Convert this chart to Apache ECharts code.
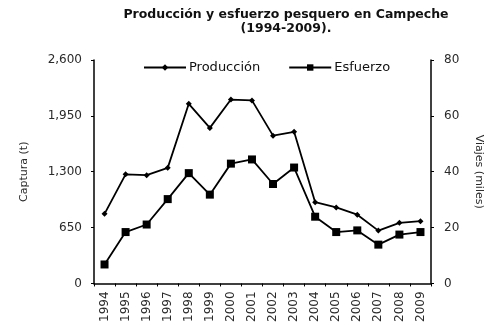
<!DOCTYPE html>
<html>
<head>
<meta charset="utf-8">
<script src="https://cdn.jsdelivr.net/npm/echarts@6/dist/echarts.min.js"></script>
<style>
  html, body { margin: 0; padding: 0; background: #fff; }
  #chart { width: 492px; height: 325px; }
</style>
</head>
<body>
<div id="chart"></div>
<script>
// Captura anual (t) y esfuerzo (miles de viajes), Campeche 1994-2009
const years = ['1994','1995','1996','1997','1998','1999','2000','2001',
               '2002','2003','2004','2005','2006','2007','2008','2009'];
const produccion = [810, 1270, 1260, 1345, 2090, 1810, 2140, 2130,
                    1720, 1765, 945, 885, 800, 615, 705, 725];
const esfuerzo = [6.8, 18.4, 21.1, 30.2, 39.5, 31.8, 42.9, 44.4,
                  35.6, 41.5, 23.9, 18.4, 19.0, 13.9, 17.5, 18.4];
const leftTicks = [0, 650, 1300, 1950, 2600];
const rightTicks = [0, 20, 40, 60, 80];

const FONT = 'DejaVu Sans';
const chart = echarts.init(document.getElementById('chart'), null, { renderer: 'canvas' });

const axisText = { color: '#2a2a2a', fontSize: 12, fontFamily: FONT };

chart.setOption({
  backgroundColor: '#fff',
  animation: false,
  title: {
    text: 'Producción y esfuerzo pesquero en Campeche\n(1994-2009).',
    left: 281, top: 3, textAlign: 'center',
    textStyle: { fontFamily: FONT, fontWeight: 'bold', fontSize: 12.5, lineHeight: 14, color: '#111' }
  },
  legend: {
    left: 138, top: 56,
    itemWidth: 42, itemHeight: 8, itemGap: 28,
    textStyle: { fontFamily: FONT, fontSize: 13, color: '#111', padding: [0, 0, 0, -2] },
    data: [
      { name: 'Producción' },
      { name: 'Esfuerzo' }
    ]
  },
  grid: { left: 94, right: 54, top: 60, bottom: 40, containLabel: false },
  xAxis: {
    type: 'category',
    data: years,
    boundaryGap: true,
    axisLine: { lineStyle: { color: '#000', width: 1.5 } },
    axisTick: { show: true, length: 3, lineStyle: { color: '#000' } },
    axisLabel: Object.assign({ rotate: 90, margin: 8, interval: 0 }, axisText)
  },
  yAxis: [
    {
      type: 'value', min: 0, max: 2600, interval: 650,
      name: 'Captura (t)', nameLocation: 'middle', nameRotate: 90, nameGap: 64,
      nameTextStyle: { fontFamily: FONT, fontSize: 11, color: '#2a2a2a' },
      axisLine: { show: true, lineStyle: { color: '#000', width: 1.5 } },
      axisTick: { show: true, length: 3, lineStyle: { color: '#000' } },
      splitLine: { show: false },
      axisLabel: Object.assign({
        margin: 12,
        formatter: v => leftTicks.includes(v) ? v.toLocaleString('en-US') : ''
      }, axisText)
    },
    {
      type: 'value', min: 0, max: 80, interval: 20,
      name: 'Viajes (miles)', nameLocation: 'middle', nameRotate: -90, nameGap: 42,
      nameTextStyle: { fontFamily: FONT, fontSize: 11, color: '#2a2a2a' },
      position: 'right',
      axisLine: { show: true, lineStyle: { color: '#000', width: 1.5 } },
      axisTick: { show: true, length: 3, lineStyle: { color: '#000' } },
      splitLine: { show: false },
      axisLabel: Object.assign({
        margin: 13,
        formatter: v => rightTicks.includes(v) ? String(v) : ''
      }, axisText)
    }
  ],
  series: [
    {
      name: 'Producción', type: 'line', yAxisIndex: 0,
      data: produccion,
      symbol: 'diamond', symbolSize: 6,
      lineStyle: { color: '#000', width: 1.8 },
      itemStyle: { color: '#000' }
    },
    {
      name: 'Esfuerzo', type: 'line', yAxisIndex: 1,
      data: esfuerzo,
      symbol: 'rect', symbolSize: 8,
      lineStyle: { color: '#000', width: 1.8 },
      itemStyle: { color: '#000' }
    }
  ]
});
</script>
</body>
</html>
